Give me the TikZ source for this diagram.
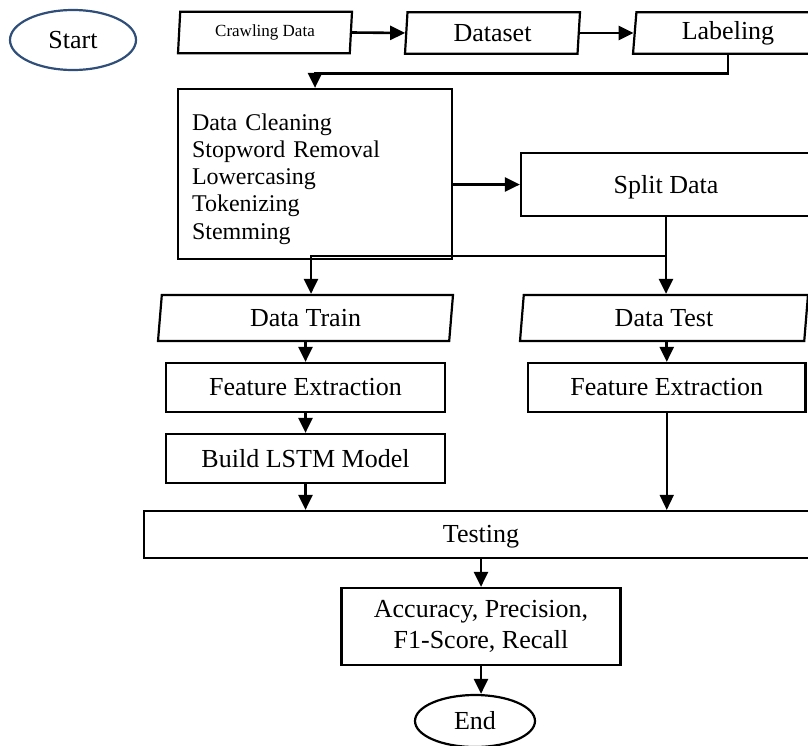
\documentclass[tikz,border=0pt]{standalone}
\usepackage{fontspec}
\setmainfont{Liberation Serif}
\usetikzlibrary{arrows.meta,shapes.geometric}
\definecolor{startblue}{HTML}{2F4F7A}
\begin{document}
\begin{tikzpicture}[x=1pt,y=-1pt,
  box/.style={draw, line width=2.2pt, rectangle, inner sep=0pt, font=\fontsize{26}{31}\selectfont, align=center},
  para/.style={draw, line width=2.2pt, trapezium, trapezium left angle=#1, trapezium right angle={180-#1}, trapezium stretches body, inner sep=0pt, font=\fontsize{26}{31}\selectfont},
  oval/.style={draw, line width=2.2pt, ellipse, inner sep=0pt, font=\fontsize{26}{31}\selectfont},
  arr/.style={line width=2.6pt, -{Triangle[length=15pt,width=14pt]}},
  plain/.style={line width=2.6pt}
]
\useasboundingbox (0,0) rectangle (808,745);

\node[oval, draw=startblue, minimum width=126pt, minimum height=60pt] (start) at (73,40) {Start};
\node[para=81.8, minimum width=174pt, minimum height=41.5pt, font=\fontsize{17}{20}\selectfont] (crawl) at (265,32.5) {Crawling Data};
\node[para=81.8, minimum width=175pt, minimum height=41.5pt] (dataset) at (492.5,33) {Dataset};
\node[para=81.8, minimum width=190pt, minimum height=41.5pt] (label) at (728,33) {Labeling};
\node[box, minimum width=274pt, minimum height=170pt, text width=246pt, align=left, font=\fontsize{24}{27.3}\selectfont] (prep) at (315,174) {\rule{0pt}{26.5pt}Data Cleaning\\Stopword Removal\\Lowercasing\\Tokenizing\\Stemming};
\node[box, minimum width=290pt, minimum height=63pt] (split) at (666,184.5) {\rule{0pt}{24pt}Split Data};
\node[para=77.7, minimum width=295pt, minimum height=46pt] (train) at (305.5,318) {Data Train};
\node[para=77.7, minimum width=288pt, minimum height=46pt] (test) at (664,318) {Data Test};
\node[box, minimum width=279pt, minimum height=49pt] (fe1) at (305.5,387.5) {Feature Extraction};
\node[box, minimum width=277.5pt, minimum height=49pt] (fe2) at (666.75,387.5) {Feature Extraction};
\node[box, minimum width=279pt, minimum height=49pt] (lstm) at (305.5,458.5) {Build LSTM Model};
\node[box, minimum width=674pt, minimum height=47pt] (testing) at (481,534.5) {\rule{0pt}{22pt}Testing};
\node[box, minimum width=279pt, minimum height=77pt] (acc) at (481,626.5) {Accuracy, Precision,\\F1-Score, Recall};
\node[oval, minimum width=120pt, minimum height=52pt] (end) at (475,721) {End};

\draw[arr] (crawl.east) -- (dataset.west);
\draw[arr] (dataset.east) -- (label.west);
\draw[arr] (label.south) -- ++(0,18.5) -| (prep.north);
\draw[arr] (prep.east |- split.west) -- (split.west);
\draw[plain] (split.south) -- ++(0,39) coordinate (sj);
\draw[arr] (sj) -| ([xshift=5.5pt]train.north);
\draw[arr] (sj) -- (sj |- test.north);
\draw[arr] (train.south) -- (fe1.north);
\draw[arr] (fe2.north |- test.south) -- (fe2.north);
\draw[arr] (fe1.south) -- (lstm.north);
\draw[arr] (lstm.south) -- (testing.north -| lstm.south);
\draw[arr, line width=1.5pt] (fe2.south) -- (testing.north -| fe2.south);
\draw[arr] (testing.south) -- (acc.north);
\draw[arr] (acc.south) -- (end.north -| acc.south);
\end{tikzpicture}
\end{document}
